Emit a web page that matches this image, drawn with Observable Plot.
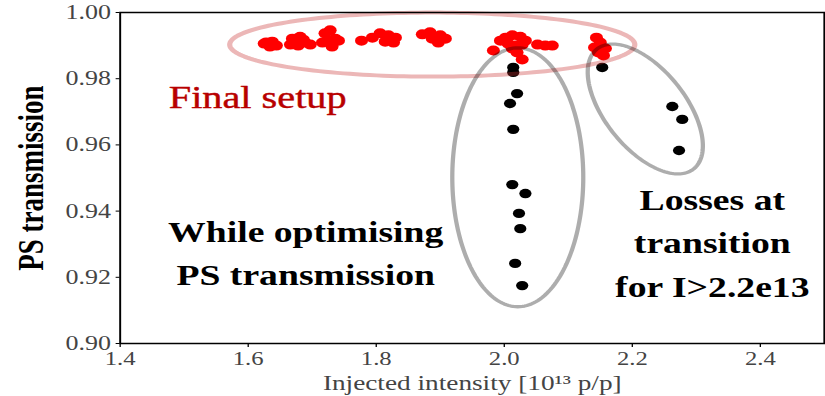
<!DOCTYPE html>
<html><head><meta charset="utf-8">
<script src="https://cdn.jsdelivr.net/npm/d3@7"></script>
<script src="https://cdn.jsdelivr.net/npm/@observablehq/plot@0.6"></script>
<style>body{margin:0;background:#fff;overflow:hidden}</style>
</head><body><div id="chart"></div>
<script>
// Final setup (red points)
const finalX = [1.628,1.6375,1.644,1.634,1.625, 1.666,1.669,1.681,1.689,1.678,1.697,1.686,
  1.716,1.720,1.728,1.736,1.731,1.741,1.725, 1.777,
  1.794,1.806,1.819,1.830,1.814,1.827, 1.872,1.884,1.900,1.897,1.908,1.8875, 1.983,
  1.994,2.002,2.0125,2.025,2.033,2.006,2.017,2.028,2.020,2.028,2.0125, 2.052,2.064,2.075,
  2.144,2.150,2.141,2.158,2.147,2.155];
const finalY = [0.9909,0.9912,0.9900,0.9897,0.9906, 0.9903,0.9921,0.9927,0.9909,0.9900,0.9903,0.9918,
  0.9909,0.9937,0.9946,0.9921,0.9897,0.9915,0.9915, 0.9915,
  0.9924,0.9937,0.9931,0.9924,0.9912,0.9909, 0.9934,0.9940,0.9931,0.9909,0.9921,0.9921, 0.9885,
  0.9915,0.9924,0.9931,0.9927,0.9915,0.9906,0.9900,0.9903,0.9879,0.9858,0.9891, 0.9903,0.9900,0.9900,
  0.9924,0.9909,0.9894,0.9891,0.9879,0.9870];
// While optimising / losses at transition (black points)
const optX = [2.014,2.014,2.020,2.009,2.014,2.0125,2.033,2.023,2.025,2.017,2.028, 2.153,2.2625,2.278,2.273];
const optY = [0.9834,0.9819,0.9755,0.9725,0.9647,0.9480,0.9453,0.9393,0.9347,0.9242,0.9175, 0.9834,0.9716,0.9677,0.9583];

const xTicks = [1.4, 1.6, 1.8, 2.0, 2.2, 2.4];
const yTicks = [0.90, 0.92, 0.94, 0.96, 0.98, 1.00];

// Annotations
const noteText = ["Final setup", "While optimising\nPS transmission", "Losses at\ntransition\nfor I>2.2e13"];
const noteX = [1.6148, 1.6898, 2.325];
const noteY = [0.9743, 0.9284, 0.9314];

// Annotation ellipses: centre and two conjugate semi-axes (data units)
const ellipseCx = [1.8875, 2.0211, 2.2203];
const ellipseCy = [0.9903, 0.9502, 0.97085];
const ellipseAx = [0.3164, 0.1023, 0.0757];
const ellipseAy = [0, 0, -0.01808];
const ellipseBx = [0, 0, -0.04856];
const ellipseBy = [0.00967, 0.0391, -0.0076];

function ellipsePoints(ids) {
  const pts = [];
  const N = 180;
  for (const i of ids) {
    for (let k = 0; k < N; k++) {
      const t = 2 * Math.PI * k / N;
      pts.push({id: i,
        x: ellipseCx[i] + ellipseAx[i] * Math.cos(t) + ellipseBx[i] * Math.sin(t),
        y: ellipseCy[i] + ellipseAy[i] * Math.cos(t) + ellipseBy[i] * Math.sin(t)});
    }
  }
  return pts;
}

const W = 825, H = 396, STRETCH = 1.3;
const PW = Math.round(W / STRETCH);
const FONT = "Liberation Serif";

const plot = Plot.plot({
  width: PW, height: H,
  marginLeft: 92, marginRight: 1, marginTop: 12, marginBottom: 53,
  x: {domain: [1.4, 2.5]},
  y: {domain: [0.90, 1.00]},
  style: {background: "white", fontFamily: FONT},
  marks: [
    Plot.axisX({ticks: xTicks, tickFormat: d3.format(".1f"), tickSize: 4, tickPadding: 4,
      fontSize: 19, fontFamily: FONT, fill: "#444", stroke: "black", label: null}),
    Plot.axisY({ticks: yTicks, tickFormat: d3.format(".2f"), tickSize: 3, tickPadding: 4,
      fontSize: 20, fontFamily: FONT, fill: "#444", stroke: "black", label: null}),
    Plot.dot(finalX, {x: d => d, y: (d, i) => finalY[i], r: 5, fill: "#ff0000", stroke: "none"}),
    Plot.dot(optX, {x: d => d, y: (d, i) => optY[i], r: 4.7, fill: "black", stroke: "none"}),
    Plot.line(ellipsePoints([0]), {x: "x", y: "y", z: "id", curve: "linear-closed",
      stroke: "#c83232", strokeOpacity: 0.35, strokeWidth: 4}),
    Plot.line(ellipsePoints([1, 2]), {x: "x", y: "y", z: "id", curve: "linear-closed",
      stroke: "black", strokeOpacity: 0.32, strokeWidth: 3.3}),
    Plot.frame({stroke: "black", strokeWidth: 1.5}),
    Plot.text([noteText[0]], {x: () => noteX[0], y: () => noteY[0], text: d => d,
      fontSize: 31, fill: "#b80000", stroke: "#b80000", strokeWidth: 0.4, fontFamily: FONT}),
    Plot.text(noteText.slice(1), {x: (d, i) => noteX[i + 1], y: (d, i) => noteY[i + 1], text: d => d,
      fontSize: 29, fontWeight: "bold", fill: "black", lineHeight: 1.5, fontFamily: FONT}),
    Plot.text(["PS transmission"], {frameAnchor: "left", dx: -68, rotate: -90,
      textAnchor: "middle", lineAnchor: "middle",
      fontSize: 27, fontWeight: "bold", fill: "black", fontFamily: FONT}),
    Plot.text(["Injected intensity [10¹³ p/p]"], {frameAnchor: "bottom", dy: 46,
      fontSize: 21, fill: "#444", fontFamily: FONT})
  ]
});

plot.setAttribute("width", W);
plot.setAttribute("height", H);
plot.setAttribute("preserveAspectRatio", "none");
plot.style.width = W + "px";
plot.style.height = H + "px";
plot.style.maxWidth = "none";
document.getElementById("chart").appendChild(plot);
</script>
</body></html>
